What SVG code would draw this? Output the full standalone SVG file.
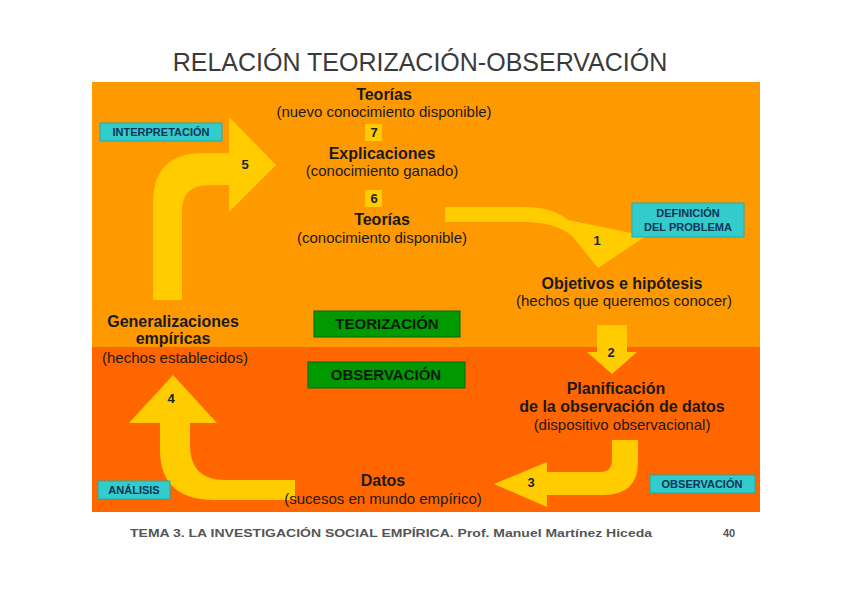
<svg xmlns="http://www.w3.org/2000/svg" width="842" height="595" viewBox="0 0 842 595">
<style>
.h{font-family:"Liberation Sans",Arial,sans-serif;font-weight:bold;font-size:16px;fill:#1a1a1a;text-anchor:middle}
.p{font-family:"Liberation Sans",Arial,sans-serif;font-size:15px;fill:#1a1a1a;text-anchor:middle}
.n{font-family:"Liberation Sans",Arial,sans-serif;font-weight:bold;font-size:13px;fill:#222;text-anchor:middle}
.c{fill:#33CCCC;stroke:#22AAAA;stroke-width:1}
.ct{font-family:"Liberation Sans",Arial,sans-serif;font-weight:bold;font-size:11px;fill:#113355;text-anchor:middle}
.g{fill:#009900;stroke:#006600;stroke-width:1}
.gt{font-family:"Liberation Sans",Arial,sans-serif;font-weight:bold;font-size:15px;fill:#0a1a0a;text-anchor:middle}
.y{fill:#FFCC00}
</style>
<rect width="842" height="595" fill="#ffffff"/>
<text x="420" y="71" font-family="Liberation Sans,Arial,sans-serif" font-size="25" fill="#3a3a3a" text-anchor="middle">RELACIÓN TEORIZACIÓN-OBSERVACIÓN</text>
<rect x="92" y="82" width="668" height="266" fill="#FF9900"/>
<rect x="92" y="347" width="668" height="165" fill="#FF6600"/>

<g id="connectors">
<path class="y" d="M153 300 L153 203 Q153 153 203 153 L229 153 L229 117 L276 165 L229 212 L229 185 L210 185 Q182 185 182 210 L182 300 Z"/>
<path class="y" d="M445 207 L525 207 Q552 207 568 220 L646 236 L598 268 L572 236 Q555 222 525 222 L445 222 Z"/>
<path class="y" d="M597 325 L627 325 L627 352 L637 352 L612 374 L587 352 L597 352 Z"/>
<path class="y" d="M612 440 L638 440 L638 462 Q638 495 603 495 L547 495 L547 507 L494 484 L547 462 L547 472 L600 472 Q612 472 612 460 Z"/>
<path class="y" d="M295 480 L225 480 Q190 480 190 445 L190 423 L217 423 L173 375 L129 423 L160 423 L160 450 Q160 500 215 500 L295 500 Z"/>
<rect class="y" x="365" y="124" width="17" height="17"/>
<rect class="y" x="365" y="190" width="17" height="17"/>
<text class="n" x="374" y="137">7</text>
<text class="n" x="374" y="203">6</text>
<text class="n" x="245" y="169">5</text>
<text class="n" x="597" y="245">1</text>
<text class="n" x="611" y="357">2</text>
<text class="n" x="531" y="487">3</text>
<text class="n" x="171" y="403">4</text>
</g>

<g id="teorias-nuevo">
<text class="h" x="384" y="100">Teorías</text>
<text class="p" x="384" y="117">(nuevo conocimiento disponible)</text>
</g>
<g id="explicaciones">
<text class="h" x="382" y="159">Explicaciones</text>
<text class="p" x="382" y="176">(conocimiento ganado)</text>
</g>
<g id="teorias">
<text class="h" x="382" y="225">Teorías</text>
<text class="p" x="382" y="243">(conocimiento disponible)</text>
</g>
<g id="objetivos">
<text class="h" x="622" y="289">Objetivos e hipótesis</text>
<text class="p" x="624" y="306">(hechos que queremos conocer)</text>
</g>
<g id="planificacion">
<text class="h" x="616" y="394">Planificación</text>
<text class="h" x="622" y="412">de la observación de datos</text>
<text class="p" x="622" y="430">(dispositivo observacional)</text>
</g>
<g id="datos">
<text class="h" x="383" y="486">Datos</text>
<text class="p" x="383" y="504">(sucesos en mundo empírico)</text>
</g>
<g id="generalizaciones">
<text class="h" x="173" y="327">Generalizaciones</text>
<text class="h" x="173" y="344">empíricas</text>
<text class="p" x="175" y="363">(hechos establecidos)</text>
</g>

<g id="interpretacion">
<rect class="c" x="100" y="123" width="122" height="18"/>
<text class="ct" x="161" y="136">INTERPRETACIÓN</text>
</g>
<g id="definicion">
<rect class="c" x="632" y="203" width="112" height="34"/>
<text class="ct" x="688" y="217">DEFINICIÓN</text>
<text class="ct" x="688" y="231">DEL PROBLEMA</text>
</g>
<g id="observacion-label">
<rect class="c" x="650" y="475" width="105" height="18"/>
<text class="ct" x="702" y="488">OBSERVACIÓN</text>
</g>
<g id="analisis">
<rect class="c" x="98" y="481" width="72" height="18"/>
<text class="ct" x="134" y="494">ANÁLISIS</text>
</g>
<g id="teorizacion-box">
<rect class="g" x="314" y="311" width="146" height="26"/>
<text class="gt" x="387" y="329">TEORIZACIÓN</text>
</g>
<g id="observacion-box">
<rect class="g" x="308" y="362" width="157" height="26"/>
<text class="gt" x="386" y="380">OBSERVACIÓN</text>
</g>

<text x="130" y="537" font-family="Liberation Sans,Arial,sans-serif" font-weight="bold" font-size="11" fill="#555" textLength="522" lengthAdjust="spacingAndGlyphs">TEMA 3. LA INVESTIGACIÓN SOCIAL EMPÍRICA. Prof. Manuel Martínez Hiceda</text>
<text x="729" y="537" font-family="Liberation Sans,Arial,sans-serif" font-weight="bold" font-size="11" fill="#555" text-anchor="middle">40</text>
</svg>
